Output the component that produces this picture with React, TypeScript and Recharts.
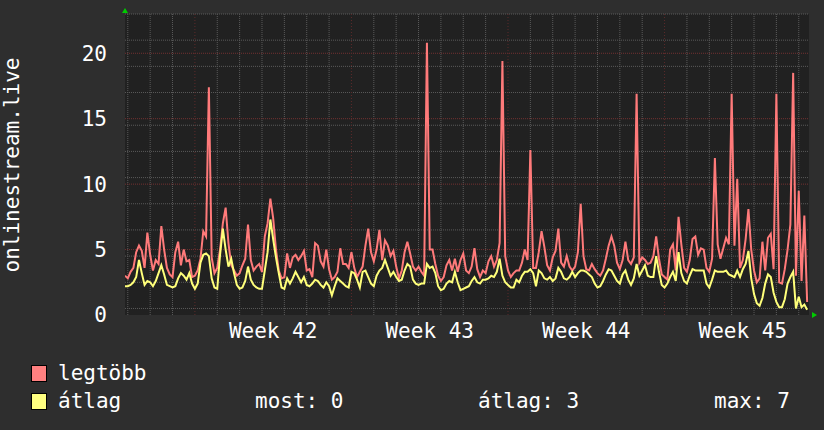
import {
  LineChart,
  Line,
  XAxis,
  YAxis,
  CartesianGrid,
  ReferenceLine,
} from "recharts";

// 3-hourly samples, hour 0 = left edge of the graph
const stepHours = 3;

const maxValues = [
  3.0, 2.8, 3.3, 3.6, 4.8, 5.3, 4.9, 3.6, 6.3, 4.6,
  3.4, 4.2, 3.9, 6.8, 5.0, 3.6, 3.1, 2.9, 4.8, 5.6,
  3.8, 5.0, 4.1, 4.2, 2.9, 3.0, 3.4, 4.3, 6.4, 6.0,
  17.4, 4.4, 3.2, 3.6, 5.0, 7.0, 8.2, 5.5, 3.8, 3.4,
  3.0, 3.2, 3.8, 4.3, 6.9, 4.2, 3.4, 3.7, 3.9, 3.3,
  6.0, 7.0, 8.9, 7.4, 5.0, 3.4, 2.8, 2.9, 4.7, 3.6,
  4.4, 4.6, 4.2, 4.5, 4.9, 3.4, 3.5, 2.9, 5.5, 5.3,
  4.1, 3.7, 5.0, 3.5, 2.7, 2.9, 3.3, 5.1, 3.9, 3.9,
  3.6, 4.8, 3.6, 2.9, 3.3, 3.7, 5.3, 6.6, 4.8, 4.1,
  5.0, 6.5, 4.2, 5.7, 5.3, 4.5, 4.9, 3.7, 2.8,
  3.4, 4.8, 5.6, 4.7, 3.7, 3.4, 3.7, 3.3, 3.0, 20.8,
  5.0, 5.0, 3.9, 3.0, 2.6, 2.9, 3.8, 4.2, 3.4, 4.3,
  3.3, 4.2, 4.7, 3.4, 3.2, 3.7, 5.1, 3.5, 2.9, 3.4,
  3.2, 4.1, 4.5, 3.7, 4.2, 5.5, 19.4, 4.5, 3.4, 2.9,
  3.2, 3.4, 3.4, 4.0, 5.0, 4.2, 12.6, 3.6, 3.6, 4.8,
  6.4, 5.2, 3.8, 3.4, 4.4, 4.9, 6.6, 4.0, 3.7, 4.5,
  3.7, 3.4, 3.7, 4.8, 8.5, 4.5, 3.5, 3.4, 3.9, 3.5,
  3.2, 3.0, 3.4, 4.3, 5.3, 6.0, 5.3, 4.0, 3.5, 4.2,
  5.6, 4.2, 3.9, 4.4, 16.9, 4.0, 4.4, 4.2, 3.9, 4.0,
  4.5, 6.0, 4.3, 3.1, 2.9, 2.7, 5.0, 5.4, 3.4,
  7.5, 5.4, 3.6, 3.3, 4.2, 5.8, 6.0, 4.6, 5.1, 5.0,
  3.6, 3.3, 4.3, 12.0, 5.4, 4.3, 5.1, 5.9, 5.4, 16.9,
  5.3, 10.4, 3.6, 4.2, 5.8, 8.1, 5.0, 3.4, 2.5, 2.8,
  5.6, 3.4, 5.9, 6.2, 3.5, 16.9, 2.5, 2.4, 3.5, 5.0,
  6.9, 18.5, 3.0, 9.5, 2.6, 7.6, 1.0,
];

const avgValues = [
  2.2, 2.2, 2.3, 2.5, 2.9, 4.2, 3.2, 2.3, 2.6, 2.5,
  2.2, 2.6, 3.2, 3.8, 3.1, 2.3, 2.2, 2.1, 2.2, 2.8,
  3.2, 3.0, 2.7, 3.2, 2.4, 2.0, 2.4, 4.0, 4.6, 4.7,
  4.5, 2.8, 2.1, 2.0, 4.6, 6.6, 5.0, 3.7, 4.3, 3.2,
  2.3, 2.0, 2.1, 2.6, 3.7, 2.7, 2.3, 2.1, 2.0, 2.0,
  3.4, 4.8, 7.3, 5.8, 4.4, 3.2, 2.1, 2.0, 2.8, 2.4,
  2.8, 3.3, 2.9, 2.5, 2.9, 2.3, 2.2, 2.4, 2.7, 2.6,
  2.3, 2.1, 2.5, 2.2, 1.5, 2.2, 2.8, 2.6, 2.4, 2.2,
  2.1, 3.3, 3.2, 2.7, 2.1, 3.3, 3.4, 2.9, 2.4, 2.2,
  3.0, 3.4, 3.6, 4.2, 3.6, 3.0, 3.3, 2.9, 2.6,
  2.7, 3.4, 3.9, 3.7, 2.7, 2.4, 2.3, 2.4, 2.4, 3.9,
  3.6, 3.7, 3.2, 2.2, 1.9, 2.0, 2.4, 2.6, 2.5, 3.3,
  2.5, 1.9, 2.0, 2.1, 2.2, 2.6, 2.9, 2.5, 2.4, 2.7,
  2.7, 2.8, 3.0, 2.9, 3.3, 4.3, 3.0, 2.5, 2.3, 2.1,
  2.1, 2.7, 2.5, 3.0, 3.3, 3.3, 3.5, 3.2, 2.2, 3.4,
  3.2, 2.8, 2.7, 2.9, 2.6, 2.8, 3.6, 3.3, 2.8, 2.7,
  2.9, 3.3, 2.9, 3.2, 3.4, 3.4, 3.3, 3.1, 2.9, 2.4,
  2.1, 2.2, 2.6, 3.1, 3.5, 3.4, 3.0, 2.6, 2.4, 3.1,
  3.4, 2.7, 2.3, 2.8, 3.9, 3.0, 3.4, 3.8, 3.0, 2.9,
  2.9, 4.5, 3.3, 2.3, 2.1, 2.4, 2.9, 3.3, 2.6,
  4.8, 3.2, 2.6, 2.4, 3.0, 3.5, 3.4, 3.4, 3.4, 3.4,
  2.4, 2.1, 2.7, 3.4, 3.3, 3.3, 3.3, 3.4, 3.1, 3.0,
  2.9, 3.4, 2.9, 3.5, 3.9, 4.9, 2.8, 1.6, 0.9, 0.7,
  1.3, 2.4, 3.1, 2.9, 1.7, 1.0, 0.6, 0.6, 1.2, 2.4,
  2.9, 3.3, 0.5, 1.4, 0.6, 0.8, 0.4,
];

// week boundaries (hours from left edge) and labels
const weekStarts = [75, 243, 411, 579];
const weekLabels = ["Week 42", "Week 43", "Week 44", "Week 45"];
const spanHours = 734;
const yTicks = [0, 5, 10, 15, 20];
const yMax = 23;

const seriesNames = ["legtöbb", "átlag"];
const seriesColors = ["#ff7a7a", "#ffff7a"];
const boxColors = ["#ff8080", "#ffff80"];
const statLabels = ["most: 0", "átlag: 3", "max: 7"];
const statLeft = [255, 478, 714];

const data = maxValues.map((v, i) => ({
  t: i * stepHours,
  max: v,
  avg: avgValues[i],
}));

const weekMids = weekStarts.map((w) => w + 84);

// minor grid: every day, every half unit
const dayLines: number[] = [];
for (let h = 3; h < spanHours; h += 24) {
  if (!weekStarts.includes(h)) dayLines.push(h);
}
dayLines.unshift(0);
const halfLines: number[] = [];
for (let v = 0.5; v <= yMax; v += 0.5) {
  if (v % 5 !== 0) halfLines.push(v);
}

const font = "'DejaVu Sans Mono', monospace";
const tickStyle = { fill: "#ffffff", fontSize: 21, fontFamily: font };

export default function App() {
  return (
    <div
      style={{
        position: "absolute",
        left: 0,
        top: 0,
        width: 824,
        height: 430,
        background: "#2e2e2e",
        overflow: "hidden",
      }}
    >
      <LineChart
        width={824}
        height={430}
        data={data}
        margin={{ top: 14, right: 15, bottom: 85, left: 0 }}
      >
        <CartesianGrid
          fill="#212121"
          fillOpacity={1}
          stroke="#5a5a5a"
          strokeDasharray="1 1"
          horizontalValues={halfLines}
          verticalValues={dayLines}
        />
        <XAxis
          type="number"
          dataKey="t"
          domain={[0, spanHours]}
          ticks={weekMids}
          tickFormatter={(v) => weekLabels[weekMids.indexOf(v)] ?? ""}
          axisLine={false}
          tickLine={false}
          tickSize={0}
          tickMargin={8}
          height={30}
          tick={tickStyle}
          allowDataOverflow
        />
        <YAxis
          domain={[0, yMax]}
          ticks={yTicks}
          width={125}
          axisLine={false}
          tickLine={false}
          tickSize={0}
          tickMargin={18}
          tick={tickStyle}
          allowDataOverflow
        />
        {yTicks
          .filter((v) => v > 0)
          .map((v) => (
            <ReferenceLine
              key={"y" + v}
              y={v}
              stroke="#733030"
              strokeDasharray="1 1"
            />
          ))}
        {weekStarts.map((w) => (
          <ReferenceLine
            key={"x" + w}
            x={w}
            stroke="#5c2a2a"
            strokeDasharray="1 2"
          />
        ))}
        <Line
          type="linear"
          dataKey="max"
          stroke={seriesColors[0]}
          strokeWidth={2}
          dot={false}
          isAnimationActive={false}
        />
        <Line
          type="linear"
          dataKey="avg"
          stroke={seriesColors[1]}
          strokeWidth={2}
          dot={false}
          isAnimationActive={false}
        />
      </LineChart>

      <svg
        width={824}
        height={430}
        style={{ position: "absolute", left: 0, top: 0, pointerEvents: "none" }}
      >
        <text
          x={12}
          y={165}
          transform="rotate(-90 12 165)"
          textAnchor="middle"
          dominantBaseline="central"
          fill="#ffffff"
          fontSize={21}
          fontFamily={font}
        >
          onlinestream.live
        </text>
        <polygon points="122,13 128,13 125,8" fill="#00cc00" />
        <polygon points="812,312 812,318 817,315" fill="#00cc00" />
      </svg>

      {seriesNames.map((name, i) => (
        <div key={name}>
          <div
            style={{
              position: "absolute",
              left: 31,
              top: 365 + i * 28,
              width: 14,
              height: 15,
              background: boxColors[i],
              border: "1px solid #000",
            }}
          />
          <div
            style={{
              position: "absolute",
              left: 58,
              top: 363 + i * 28,
              lineHeight: "21px",
              fontSize: 21,
              fontFamily: font,
              color: "#ffffff",
              whiteSpace: "pre",
            }}
          >
            {name}
          </div>
        </div>
      ))}
      {statLabels.map((s, i) => (
        <div
          key={s}
          style={{
            position: "absolute",
            left: statLeft[i],
            top: 391,
            lineHeight: "21px",
            fontSize: 21,
            fontFamily: font,
            color: "#ffffff",
            whiteSpace: "pre",
          }}
        >
          {s}
        </div>
      ))}
    </div>
  );
}
